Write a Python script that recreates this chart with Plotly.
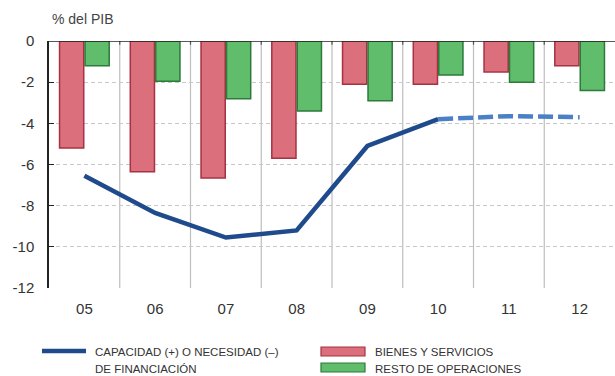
import plotly.graph_objects as go

years = ["05", "06", "07", "08", "09", "10", "11", "12"]
bienes = [-5.2, -6.35, -6.65, -5.7, -2.1, -2.1, -1.5, -1.2]
resto = [-1.2, -1.95, -2.8, -3.4, -2.9, -1.65, -2.0, -2.4]
capacidad_obs = [-6.55, -8.35, -9.55, -9.2, -5.1, -3.8]
capacidad_prev_years = ["10", "11", "12"]
capacidad_prev = [-3.8, -3.65, -3.7]
yticks = [0, -2, -4, -6, -8, -10, -12]

FONT = "Liberation Sans, Arial, sans-serif"
LFONT = dict(family=FONT, size=11.5, color="#333")

W = 566.0
H = 247.0
def px(x):
    return (x - 49) / W
def py(y):
    return (288 - y) / H

fig = go.Figure()
fig.add_trace(go.Bar(x=years, y=bienes, name="BIENES Y SERVICIOS",
                     marker=dict(color="#dc6f7c", line=dict(color="#a63243", width=1.5))))
fig.add_trace(go.Bar(x=years, y=resto, name="RESTO DE OPERACIONES",
                     marker=dict(color="#5fbd6b", line=dict(color="#2d7a3b", width=1.5))))
fig.add_trace(go.Scatter(x=years[:len(capacidad_obs)], y=capacidad_obs, mode="lines",
                         line=dict(color="#1f4a8c", width=4.5)))
fig.add_trace(go.Scatter(x=capacidad_prev_years, y=capacidad_prev, mode="lines",
                         line=dict(color="#4a80c6", width=4.5, dash="15px,5px")))

shapes = []
for i in range(len(years) - 1):
    shapes.append(dict(type="line", xref="x", yref="y", x0=i + 0.5, x1=i + 0.5, y0=-12, y1=0,
                       line=dict(color="#bdbdbd", width=1.2), layer="below"))
    shapes.append(dict(type="line", xref="x", yref="paper", x0=i + 0.5, x1=i + 0.5, y0=1, y1=0.985,
                       line=dict(color="#555", width=1.2)))
shapes.append(dict(type="line", xref="paper", yref="y", x0=0, x1=1, y0=0, y1=0,
                   line=dict(color="#222", width=1.5)))
# legend samples
shapes.append(dict(type="line", xref="paper", yref="paper", x0=px(42), x1=px(86),
                   y0=py(351), y1=py(351), line=dict(color="#1f4a8c", width=4.5)))
shapes.append(dict(type="rect", xref="paper", yref="paper", x0=px(321), x1=px(365),
                   y0=py(356), y1=py(347), fillcolor="#dc6f7c",
                   line=dict(color="#a63243", width=1.2)))
shapes.append(dict(type="rect", xref="paper", yref="paper", x0=px(321), x1=px(365),
                   y0=py(372), y1=py(363), fillcolor="#5fbd6b",
                   line=dict(color="#2d7a3b", width=1.2)))

def lab(text, x, y):
    return dict(text=text, xref="paper", yref="paper", x=px(x), y=py(y),
                xanchor="left", yanchor="middle", showarrow=False, font=LFONT)

ann = [
    dict(text="% del PIB", xref="paper", yref="paper", x=px(50), y=py(19),
         xanchor="left", yanchor="middle", showarrow=False, font=dict(family=FONT, size=14, color="#444")),
    lab("CAPACIDAD (+) O NECESIDAD (–)", 93, 352),
    lab("DE FINANCIACIÓN", 93, 369),
    lab("BIENES Y SERVICIOS", 373, 352),
    lab("RESTO DE OPERACIONES", 373, 369),
]

fig.update_layout(
    width=615, height=376,
    margin=dict(l=49, r=0, t=41, b=88),
    plot_bgcolor="white", paper_bgcolor="white",
    barmode="group", bargap=0.28, bargroupgap=0.05,
    showlegend=False,
    shapes=shapes, annotations=ann,
    xaxis=dict(type="category", showgrid=False, showline=False, ticks="",
               tickfont=dict(family=FONT, size=15, color="#333"), ticklabelstandoff=10,
               range=[-0.5, 7.5]),
    yaxis=dict(range=[-12, 0], tickvals=yticks, ticktext=[str(v) for v in yticks],
               showgrid=True, gridcolor="#c8c8c8", griddash="4px,3px", gridwidth=1,
               zeroline=False, showline=True, linecolor="#222", linewidth=1.5,
               ticks="inside", ticklen=5, tickcolor="#222", ticklabelstandoff=10,
               tickfont=dict(family=FONT, size=15, color="#333")),
)
fig.write_html("out.html", config={"displayModeBar": False},
               post_script="document.body.style.margin='0';")
